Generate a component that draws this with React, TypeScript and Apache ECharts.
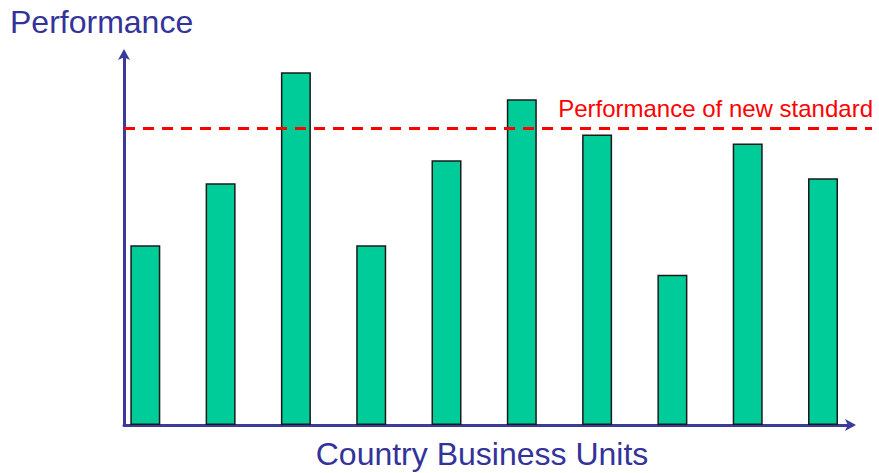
import React, { useEffect, useRef } from "react";
import * as echarts from "echarts";

const units = ["1", "2", "3", "4", "5", "6", "7", "8", "9", "10"];
const performance = [48.3, 65.0, 94.8, 48.3, 71.2, 87.6, 78.1, 40.4, 75.7, 66.3];
const standard = 79.7;
const yTitle = "Performance";
const xTitle = "Country Business Units";
const standardLabel = "Performance of new standard";

const FONT = "'Liberation Sans', Arial, sans-serif";
const AXIS_COLOR = "#3b3b9c";
const TITLE_COLOR = "#333399";

export default function App() {
  const ref = useRef<HTMLDivElement>(null);
  useEffect(() => {
    if (!ref.current) return;
    const chart = echarts.init(ref.current, undefined, { renderer: "svg" });
    const axisLine = {
      show: true,
      symbol: ["none", "arrow"],
      symbolSize: [9, 11],
      symbolOffset: [0, 4],
      lineStyle: { color: AXIS_COLOR, width: 3 },
    };
    chart.setOption({
      animation: false,
      grid: { left: 124, right: 27, top: 53, bottom: 48 },
      xAxis: {
        type: "value",
        min: 0.717,
        max: 10.385,
        axisLine,
        axisTick: { show: false },
        axisLabel: { show: false },
        splitLine: { show: false },
      },
      yAxis: {
        type: "value",
        min: 0,
        max: 100,
        axisLine,
        axisTick: { show: false },
        axisLabel: { show: false },
        splitLine: { show: false },
      },
      series: [
        {
          type: "bar",
          name: yTitle,
          barWidth: 30,
          data: performance.map((v, i) => ({ value: [i + 1, v], name: units[i] })),
          itemStyle: { color: "#00CC99", borderColor: "#1a1a1a", borderWidth: 1.5 },
          z: 1,
        },
      ],
    });
    const p0 = chart.convertToPixel({ gridIndex: 0 }, [0.717, standard]) as number[];
    const lineY = p0[1];
    chart.setOption({
      graphic: [
        {
          type: "line",
          shape: { x1: p0[0], y1: lineY, x2: 872, y2: lineY },
          style: { stroke: "#FF0000", lineWidth: 3, lineDash: [11, 8] },
          z: 10,
        },
        {
          type: "text",
          x: 873,
          y: lineY - 32,
          style: {
            text: standardLabel,
            fill: "#FF0000",
            font: `24px ${FONT}`,
            textAlign: "right",
            textVerticalAlign: "top",
          },
        },
        {
          type: "text",
          x: 10,
          y: 6,
          style: {
            text: yTitle,
            fill: TITLE_COLOR,
            font: `32px ${FONT}`,
            textAlign: "left",
            textVerticalAlign: "top",
          },
        },
        {
          type: "text",
          x: 482,
          y: 438,
          style: {
            text: xTitle,
            fill: TITLE_COLOR,
            font: `32px ${FONT}`,
            textAlign: "center",
            textVerticalAlign: "top",
          },
        },
      ],
    });
    return () => chart.dispose();
  }, []);
  return (
    <div
      ref={ref}
      style={{ position: "fixed", left: 0, top: 0, width: 879, height: 473, background: "#fff" }}
    />
  );
}
